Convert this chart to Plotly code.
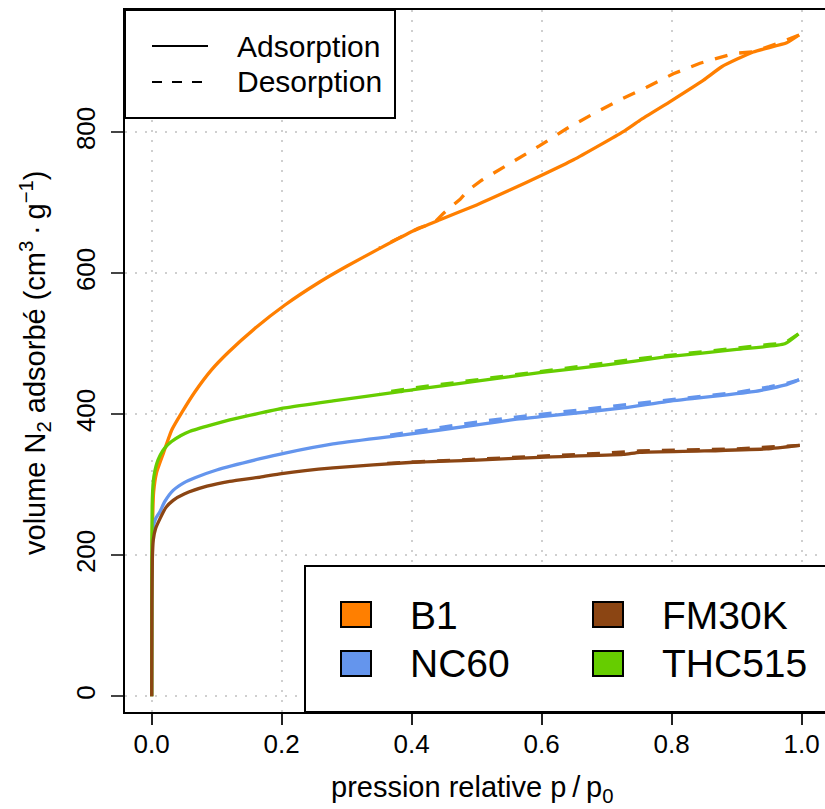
import plotly.graph_objects as go

# ---------------- data ----------------
b1_ads_p = [0, 0.0003, 0.001, 0.003, 0.0077, 0.018, 0.031, 0.046, 0.0666, 0.092, 0.118, 0.159,
            0.205, 0.259, 0.3, 0.35, 0.402, 0.4435, 0.5, 0.551, 0.6, 0.649, 0.7255, 0.751, 0.8,
            0.849, 0.877, 0.9255, 0.977, 0.996]
b1_ads_v = [0, 150, 230, 290, 318, 345, 378, 402, 432, 463, 488, 522,
            555, 588, 610, 635, 660, 676, 697, 718, 739, 761, 801, 817, 845,
            874, 893, 914, 927, 938]
b1_des_p = [0.996, 0.96, 0.925, 0.897, 0.8435, 0.8025, 0.7615, 0.72, 0.679, 0.638, 0.597, 0.556,
            0.5255, 0.5077, 0.487, 0.4745, 0.4487, 0.435, 0.41, 0.38, 0.35]
b1_des_v = [938, 925, 914, 912, 898, 883, 864, 846, 826, 805, 781, 759,
            742, 732, 718, 705, 685, 672, 664, 650, 636]

nc60_ads_p = [0, 0.0003, 0.001, 0.0025, 0.006, 0.0128, 0.02, 0.033, 0.05, 0.0666, 0.1,
              0.167, 0.205, 0.279, 0.382, 0.5, 0.5615, 0.6025, 0.7255, 0.792, 0.9255, 0.977, 0.996]
nc60_ads_v = [0, 150, 215, 240, 252, 262, 276, 292, 303, 310, 321,
              337, 345, 358, 370, 385, 393, 397, 409, 418, 432, 442, 449]
nc60_des_p = [0.996, 0.977, 0.95, 0.9, 0.85, 0.8, 0.75, 0.7, 0.65, 0.6, 0.55, 0.5, 0.45, 0.4, 0.35]
nc60_des_v = [449, 444, 439, 431, 426, 421, 416, 410, 405, 400, 395, 389, 382, 375, 368]

fm30k_ads_p = [0, 0.0003, 0.001, 0.0025, 0.006, 0.0128, 0.022, 0.033, 0.05, 0.085, 0.12, 0.167,
               0.2, 0.279, 0.4025, 0.5, 0.597, 0.7255, 0.751, 0.85, 0.946, 0.997]
fm30k_ads_v = [0, 130, 195, 222, 238, 252, 268, 278, 287, 298, 305, 311,
               316, 324, 332, 335, 339, 343, 346, 348, 351, 356]
fm30k_des_p = [0.997, 0.95, 0.9, 0.85, 0.8, 0.75, 0.7, 0.65, 0.6, 0.55, 0.5, 0.45, 0.4, 0.35]
fm30k_des_v = [356, 353, 351, 350, 349, 348, 345, 343, 341, 339, 337, 335, 333, 330]

thc_ads_p = [0, 0.0002, 0.0007, 0.0025, 0.005, 0.0077, 0.013, 0.02, 0.03, 0.045, 0.059, 0.092,
             0.12, 0.1435, 0.205, 0.279, 0.382, 0.4025, 0.5, 0.597, 0.7, 0.787, 0.9, 0.974, 0.995]
thc_ads_v = [0, 180, 270, 305, 320, 330, 342, 352, 361, 370, 376, 385,
             392, 397, 409, 419, 432, 435, 447, 459, 470, 481, 492, 500, 514]
thc_des_p = [0.995, 0.974, 0.95, 0.9, 0.85, 0.8, 0.75, 0.7, 0.65, 0.6, 0.55, 0.5, 0.45, 0.4, 0.35]
thc_des_v = [514, 501, 499, 494, 489, 485, 479, 473, 467, 462, 456, 450, 444, 437, 430]

samples = ["B1", "NC60", "THC515", "FM30K"]
colors = {"B1": "#FF7F00", "NC60": "#6495ED", "FM30K": "#8B4513", "THC515": "#66CD00"}
series = {
    "B1": (b1_ads_p, b1_ads_v, b1_des_p, b1_des_v),
    "NC60": (nc60_ads_p, nc60_ads_v, nc60_des_p, nc60_des_v),
    "THC515": (thc_ads_p, thc_ads_v, thc_des_p, thc_des_v),
    "FM30K": (fm30k_ads_p, fm30k_ads_v, fm30k_des_p, fm30k_des_v),
}

x_ticks = [0, 0.2, 0.4, 0.6, 0.8, 1.0]
x_ticktext = ["0.0", "0.2", "0.4", "0.6", "0.8", "1.0"]
y_ticks = [0, 200, 400, 600, 800]
y_ticktext = ["0", "200", "400", "600", "800"]

FONT = "Liberation Sans, Arial, Helvetica, sans-serif"

fig = go.Figure()
for s in samples:
    ap, av, dp, dv = series[s]
    fig.add_trace(go.Scatter(x=dp, y=dv, mode="lines", showlegend=False,
                             line=dict(color=colors[s], width=3.3, dash="13px,12px")))
    fig.add_trace(go.Scatter(x=ap, y=av, mode="lines", showlegend=False,
                             line=dict(color=colors[s], width=3.3, shape="spline", smoothing=0.5)))

# ---------------- layout helpers (pixel -> paper) ----------------
W, H = 825, 809
L, R, T, B = 125, 0, 10, 97
PW, PH = W - L - R, H - T - B


def px(x):
    return (x - L) / PW


def py(y):
    return (H - B - y) / PH


shapes = []
annotations = []

# legend 1 (line types)
shapes.append(dict(type="rect", xref="paper", yref="paper", x0=px(125), x1=px(395),
                   y0=py(10), y1=py(118), line=dict(color="black", width=2),
                   fillcolor="white", layer="above"))
shapes.append(dict(type="line", xref="paper", yref="paper", x0=px(152), x1=px(208),
                   y0=py(46), y1=py(46), line=dict(color="black", width=2), layer="above"))
shapes.append(dict(type="line", xref="paper", yref="paper", x0=px(152), x1=px(208),
                   y0=py(82), y1=py(82), line=dict(color="black", width=2, dash="10px,10px"),
                   layer="above"))
for txt, yy in [("Adsorption", 46), ("Desorption", 82)]:
    annotations.append(dict(text=txt, xref="paper", yref="paper", x=px(235), y=py(yy),
                            xanchor="left", yanchor="middle", showarrow=False,
                            font=dict(family=FONT, size=30, color="black")))

# legend 2 (samples)
shapes.append(dict(type="rect", xref="paper", yref="paper", x0=px(305), x1=px(840),
                   y0=py(566), y1=py(712), line=dict(color="black", width=2),
                   fillcolor="white", layer="above"))
leg_pos = {"B1": (341, 602, 408, 615), "NC60": (341, 651, 408, 663),
           "FM30K": (593, 602, 660, 615), "THC515": (593, 651, 660, 663)}
for s, (bx, by, tx, ty) in leg_pos.items():
    shapes.append(dict(type="rect", xref="paper", yref="paper", x0=px(bx), x1=px(bx + 30),
                       y0=py(by), y1=py(by + 25), line=dict(color="black", width=2),
                       fillcolor=colors[s], layer="above"))
    annotations.append(dict(text=s, xref="paper", yref="paper", x=px(tx), y=py(ty),
                            xanchor="left", yanchor="middle", showarrow=False,
                            font=dict(family=FONT, size=39, color="black")))

# axis titles
annotations.append(dict(text="pression relative p\u2009/\u2009p<sub>0</sub>", xref="paper", yref="paper",
                        x=px(472), y=py(789), xanchor="center", yanchor="middle", showarrow=False,
                        font=dict(family=FONT, size=29, color="black")))
annotations.append(dict(text="volume N<sub>2</sub> adsorbé (cm<sup>3</sup>\u2009·\u2009g<sup>\u22121</sup>)",
                        xref="paper", yref="paper", x=px(35), y=py(363), xanchor="center",
                        yanchor="middle", textangle=-90, showarrow=False,
                        font=dict(family=FONT, size=29, color="black")))

x0 = -(151.7 - L) / 650.0
x1 = x0 + PW / 650.0
ybot = -(H - B - 696.3) / 0.705
ytop = ybot + PH / 0.705

grid = dict(showgrid=True, gridcolor="#CFCFCF", gridwidth=2, griddash="2px,8px", zeroline=False)

fig.update_layout(
    width=W, height=H, margin=dict(l=L, r=R, t=T, b=B, pad=0),
    paper_bgcolor="white", plot_bgcolor="white",
    font=dict(family=FONT, color="black"),
    shapes=shapes, annotations=annotations, showlegend=False,
    xaxis=dict(range=[x0, x1], tickvals=x_ticks, ticktext=x_ticktext, ticks="outside",
               ticklen=11, tickwidth=1.5, tickcolor="#222", showline=True, linecolor="black",
               linewidth=2, mirror=True, tickfont=dict(size=26, family=FONT),
               ticklabelstandoff=-3, **grid),
    yaxis=dict(range=[ybot, ytop], tickvals=y_ticks, ticktext=y_ticktext, ticks="outside",
               ticklen=12, tickwidth=1.5, tickcolor="#444", showline=True, linecolor="black",
               linewidth=2, mirror=False, tickangle=-90, tickfont=dict(size=26, family=FONT),
               ticklabelstandoff=6, **grid),
)

fig.write_html("out.html", config={"displayModeBar": False},
               post_script="document.body.style.margin='0';document.body.style.overflow='hidden';")
